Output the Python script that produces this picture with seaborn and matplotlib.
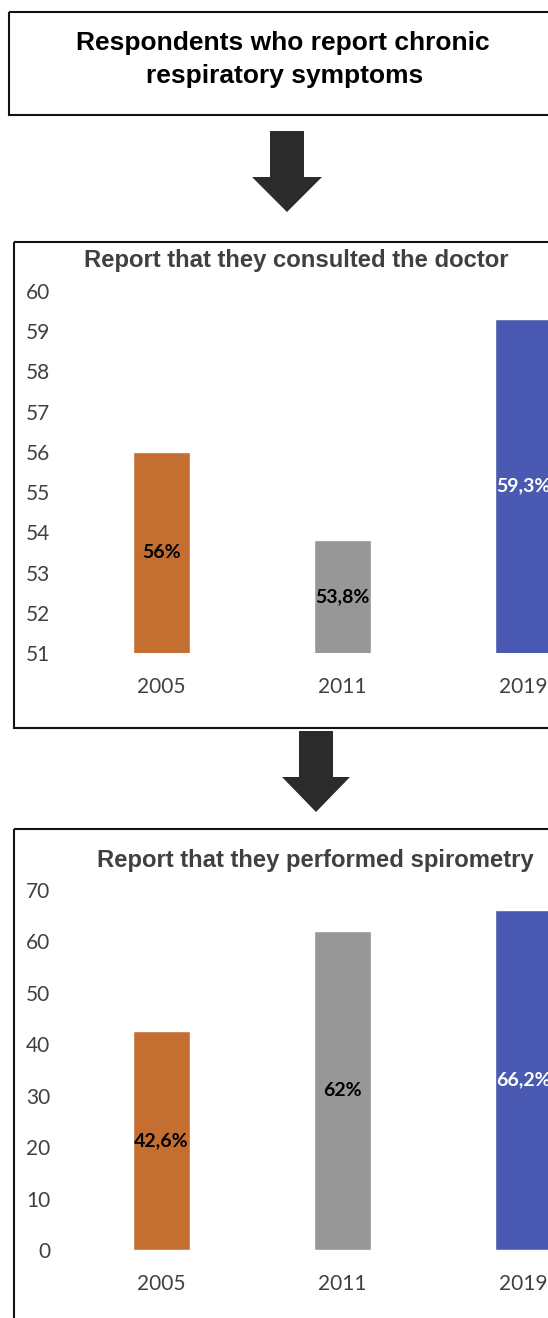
import matplotlib
matplotlib.use("Agg")
import matplotlib.pyplot as plt
import matplotlib.patches as mpatches
import pandas as pd
import seaborn as sns

W, H = 548, 1318

YEARS = ["2005", "2011", "2019"]
DOCTOR_PCT = [56.0, 53.8, 59.3]
SPIRO_PCT = [42.6, 62.0, 66.2]
DOCTOR_LABELS = ["56%", "53,8%", "59,3%"]
SPIRO_LABELS = ["42,6%", "62%", "66,2%"]
BAR_COLORS = ["#C46E32", "#979797", "#4A5AB2"]
LABEL_COLORS = ["black", "black", "white"]

TOP_TITLE = ["Respondents who report chronic", "respiratory symptoms"]
DOCTOR_TITLE = "Report that they consulted the doctor"
SPIRO_TITLE = "Report that they performed spirometry"

sns.set_style("white")
plt.rcParams["font.family"] = ["Lato", "DejaVu Sans"]

TICK_COLOR = "#404040"
TITLE_FONT = ["Liberation Sans", "DejaVu Sans"]


def px_axes(fig, left, top, right, bottom):
    # pixel box (top-left origin) -> figure fraction rect
    return fig.add_axes([left / W, (H - bottom) / H, (right - left) / W, (bottom - top) / H])


def draw_bars(ax, values, labels, ylim, yticks):
    df = pd.DataFrame({"year": YEARS, "pct": values})
    sns.barplot(data=df, x="year", y="pct", hue="year", palette=BAR_COLORS,
                width=0.315, legend=False, saturation=1, ax=ax)
    ax.set_ylim(*ylim)
    ax.set_yticks(yticks)
    ax.set_xlabel("")
    ax.set_ylabel("")
    ax.set_facecolor("none")
    for s in ax.spines.values():
        s.set_visible(False)
    ax.tick_params(axis="y", length=0, pad=15, labelsize=15, labelcolor=TICK_COLOR)
    ax.tick_params(axis="x", length=0, pad=17, labelsize=15, labelcolor=TICK_COLOR)
    for cont, lab, col in zip(ax.containers, labels, LABEL_COLORS):
        ax.bar_label(cont, labels=[lab], label_type="center", fontsize=14,
                     fontweight="bold", color=col)


fig = plt.figure(figsize=(W / 100, H / 100), dpi=100)

# background layer in pixel coords for boxes / arrows / header
bg = fig.add_axes([0, 0, 1, 1])
bg.set_xlim(0, W)
bg.set_ylim(H, 0)
bg.axis("off")

box_kw = dict(fill=False, edgecolor="#111111", linewidth=1.5)
bg.add_patch(mpatches.Rectangle((9, 12), 600, 103, **box_kw))
bg.add_patch(mpatches.Rectangle((14, 242), 600, 486, **box_kw))
bg.add_patch(mpatches.Rectangle((14, 829), 600, 491, **box_kw))

arrow_kw = dict(width=34, head_length=35, length_includes_head=True,
                color="#2b2b2b", linewidth=0)
bg.add_patch(mpatches.FancyArrow(287, 131, 0, 81, head_width=70, **arrow_kw))
bg.add_patch(mpatches.FancyArrow(316, 731, 0, 81, head_width=68, **arrow_kw))

bg.text(283, 43, TOP_TITLE[0], ha="center", va="center", fontsize=19,
        fontweight="bold", family=TITLE_FONT, color="black")
bg.text(285, 76, TOP_TITLE[1], ha="center", va="center", fontsize=19,
        fontweight="bold", family=TITLE_FONT, color="black")
bg.text(296, 260, DOCTOR_TITLE, ha="center", va="center", fontsize=17.2,
        fontweight="bold", family=TITLE_FONT, color="#404040")
bg.text(315, 860, SPIRO_TITLE, ha="center", va="center", fontsize=17.2,
        fontweight="bold", family=TITLE_FONT, color="#404040")

# chart 1: consulted the doctor (x: 181 px per category, centre of 2005 at 161.5)
ax1 = px_axes(fig, 71, 291, 614, 653)
draw_bars(ax1, DOCTOR_PCT, DOCTOR_LABELS, (51, 60), range(51, 61))

# chart 2: performed spirometry
ax2 = px_axes(fig, 71, 890, 614, 1250)
draw_bars(ax2, SPIRO_PCT, SPIRO_LABELS, (0, 70), range(0, 71, 10))

fig.savefig("out.png", dpi=100)
